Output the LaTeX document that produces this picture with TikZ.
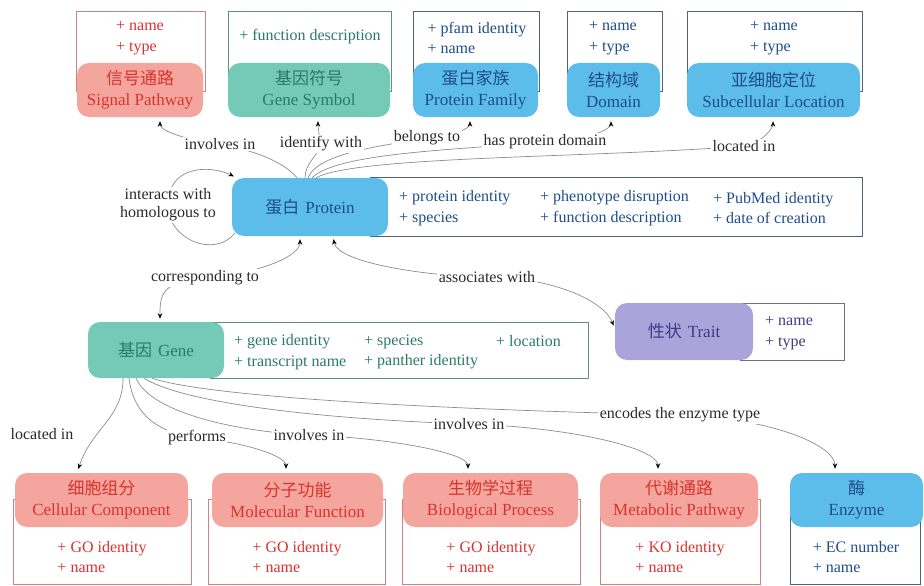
\documentclass[tikz,border=0pt]{standalone}
\usepackage{fontspec}
\setmainfont{Liberation Serif}
\newfontfamily\cjk{Noto Sans CJK SC}
\usetikzlibrary{arrows.meta,backgrounds}
\definecolor{rfill}{HTML}{F4A69E}
\definecolor{rtext}{HTML}{D8332E}
\definecolor{rline}{HTML}{C98482}
\definecolor{tfill}{HTML}{74C9B7}
\definecolor{ttext}{HTML}{2B7A68}
\definecolor{tline}{HTML}{5F8E84}
\definecolor{bfill}{HTML}{5CBDEB}
\definecolor{btext}{HTML}{1E4D8A}
\definecolor{bline}{HTML}{4C6278}
\definecolor{pfill}{HTML}{A9A5DB}
\definecolor{ptext}{HTML}{3D3A87}
\definecolor{pline}{HTML}{6F6E8E}
\definecolor{edgec}{HTML}{8C8C8C}
\definecolor{labc}{HTML}{2A2A2A}
\tikzset{
  fillbox/.style={rounded corners=12pt, inner sep=0pt, align=center, font=\fontsize{17}{21}\selectfont},
  outbox/.style={draw, line width=0.9pt, inner sep=0pt},
  attr/.style={align=left, inner sep=0pt, font=\fontsize{16}{20.5}\selectfont},
  rbox/.style={fillbox, fill=rfill, text=rtext},
  tbox/.style={fillbox, fill=tfill, text=ttext},
  bbox/.style={fillbox, fill=bfill, text=btext},
  pbox/.style={fillbox, fill=pfill, text=ptext},
  routline/.style={outbox, draw=rline},
  toutline/.style={outbox, draw=tline},
  boutline/.style={outbox, draw=bline},
  poutline/.style={outbox, draw=pline},
  rattr/.style={attr, text=rtext},
  tattr/.style={attr, text=ttext},
  battr/.style={attr, text=btext},
  pattr/.style={attr, text=ptext},
  lab/.style={fill=white, inner sep=1.5pt, text=labc, font=\fontsize{16}{18}\selectfont},
  edge/.style={draw=edgec, line width=0.7pt, -{Stealth[length=5.5pt,width=4.5pt,color=black]}, shorten >=4pt},
  bedge/.style={draw=edgec, line width=0.7pt, {Stealth[length=5.5pt,width=4.5pt,color=black]}-{Stealth[length=5.5pt,width=4.5pt,color=black]}, shorten >=3pt, shorten <=3pt}
}
\begin{document}
\begin{tikzpicture}[x=1pt,y=-1pt]
\useasboundingbox (0,0) rectangle (924,586);

% ---------- top row ----------
\node[routline, minimum width=129pt, minimum height=80pt, anchor=north] (spO) at (140.5,11) {};
\node[rbox, minimum width=126pt, minimum height=54pt] (sp) at (140,90) {{\cjk 信号通路}\\Signal Pathway};
\node[rattr] (spA) at (140,38) {+ name\\+ type};

\node[toutline, minimum width=163pt, minimum height=80pt, anchor=north] (gsO) at (309.5,11) {};
\node[tbox, minimum width=162pt, minimum height=54pt] (gs) at (309,90) {{\cjk 基因符号}\\Gene Symbol};
\node[tattr] (gsA) at (310,37) {+ function description};

\node[boutline, minimum width=126pt, minimum height=80pt, anchor=north] (pfO) at (476,11) {};
\node[bbox, minimum width=125pt, minimum height=54pt] (pf) at (475.5,90) {{\cjk 蛋白家族}\\Protein Family};
\node[battr] (pfA) at (477,38) {+ pfam identity\\+ name};

\node[boutline, minimum width=95pt, minimum height=80pt, anchor=north] (dmO) at (614.5,11) {};
\node[bbox, minimum width=93pt, minimum height=54pt] (dm) at (613.5,90) {{\cjk 结构域}\\Domain};
\node[battr] (dmA) at (613,38) {+ name\\+ type};

\node[boutline, minimum width=175pt, minimum height=80pt, anchor=north] (slO) at (774.5,11) {};
\node[bbox, minimum width=173pt, minimum height=54pt] (sl) at (773.5,90) {{\cjk 亚细胞定位}\\Subcellular Location};
\node[battr] (slA) at (774,38) {+ name\\+ type};

% ---------- protein ----------
\node[boutline, minimum width=492pt, minimum height=59pt] (pO) at (616,206.5) {};
\node[bbox, minimum width=156pt, minimum height=58pt] (P) at (310,207) {{\cjk 蛋白}\hspace{6pt}Protein};
\node[battr, anchor=west] (pA1) at (399,208) {+ protein identity\\+ species};
\node[battr, anchor=west] (pA2) at (540,208) {+ phenotype disruption\\+ function description};
\node[battr, anchor=west] (pA3) at (713,208) {+ PubMed identity\\+ date of creation};

% ---------- gene ----------
\node[toutline, minimum width=378pt, minimum height=56pt] (gO) at (399,350) {};
\node[tbox, minimum width=136pt, minimum height=56pt] (G) at (156,350) {{\cjk 基因}\hspace{6pt}Gene};
\node[tattr, anchor=west] (gA1) at (234,352) {+ gene identity\\+ transcript name};
\node[tattr, anchor=west] (gA2) at (364,352) {+ species\\+ panther identity};
\node[tattr, anchor=west] (gA3) at (496,341) {+ location};

% ---------- trait ----------
\node[poutline, minimum width=104pt, minimum height=57pt] (tO) at (792,331.5) {};
\node[pbox, minimum width=138pt, minimum height=57pt] (T) at (684,331.5) {{\cjk 性状}\hspace{6pt}Trait};
\node[pattr, anchor=west] (tA) at (765,333) {+ name\\+ type};

% ---------- bottom row ----------
\node[routline, minimum width=178pt, minimum height=85pt, anchor=south] (ccO) at (102,585) {};
\node[rbox, minimum width=173pt, minimum height=54pt] (CC) at (101.5,500) {{\cjk 细胞组分}\\Cellular Component};
\node[rattr] (ccA) at (102,557) {+ GO identity\\+ name};

\node[routline, minimum width=177pt, minimum height=85pt, anchor=south] (mfO) at (296.5,585) {};
\node[rbox, minimum width=171pt, minimum height=54pt] (MF) at (297.5,500) {{\cjk 分子功能}\\Molecular Function};
\node[rattr] (mfA) at (297,557) {+ GO identity\\+ name};

\node[routline, minimum width=178pt, minimum height=85pt, anchor=south] (bpO) at (491,585) {};
\node[rbox, minimum width=175pt, minimum height=54pt] (BP) at (490.5,500) {{\cjk 生物学过程}\\Biological Process};
\node[rattr] (bpA) at (491,557) {+ GO identity\\+ name};

\node[routline, minimum width=160pt, minimum height=85pt, anchor=south] (mpO) at (680,585) {};
\node[rbox, minimum width=158pt, minimum height=54pt] (MP) at (679,500) {{\cjk 代谢通路}\\Metabolic Pathway};
\node[rattr] (mpA) at (680,557) {+ KO identity\\+ name};

\node[boutline, minimum width=130pt, minimum height=85pt, anchor=south] (ezO) at (855,585) {};
\node[bbox, minimum width=133pt, minimum height=54pt] (EZ) at (856.5,500) {{\cjk 酶}\\Enzyme};
\node[battr] (ezA) at (856,557) {+ EC number\\+ name};

% ---------- labels ----------
\node[lab] (l1) at (220,144) {involves in};
\node[lab] (l2) at (321,144) {identify with};
\node[lab] (l3) at (427,138) {belongs to};
\node[lab] (l4) at (545,142) {has protein domain};
\node[lab] (l5) at (744,146) {located in};
\node[lab, align=center] (l6) at (168,205) {interacts with\\homologous to};
\node[lab] (l7) at (205,278) {corresponding to};
\node[lab] (l8) at (487,277) {associates with};
\node[lab] (l9) at (42,434) {located in};
\node[lab] (l10) at (197,438) {performs};
\node[lab] (l11) at (309,435) {involves in};
\node[lab] (l12) at (469,424) {involves in};
\node[lab] (l13) at (680,415) {encodes the enzyme type};

% ---------- connectors ----------
\begin{scope}[on background layer]
\draw[edge] ([xshift=-13pt]P.north) .. controls +(-15,-18) and +(30,6) .. (l1.center)
  .. controls +(-30,-3) and +(0,14) .. ([xshift=20pt]sp.south);
\draw[edge] ([xshift=-5pt]P.north) .. controls +(0,-15) and +(-3,12) .. (l2.center)
  .. controls +(-2,-8) and +(0,8) .. ([xshift=9pt]gs.south);
\draw[edge] ([xshift=-2pt]P.north) .. controls +(10,-25) and +(-45,8) .. (l3.center)
  .. controls +(30,-2) and +(0,10) .. ([xshift=-5.5pt]pf.south);
\draw[edge] ([xshift=2pt]P.north) .. controls +(25,-25) and +(-90,8) .. (l4.center)
  .. controls +(50,-2) and +(0,10) .. ([xshift=-2.5pt]dm.south);
\draw[edge] ([xshift=6pt]P.north) .. controls +(40,-22) and +(-150,12) .. (l5.center)
  .. controls +(20,-4) and +(0,10) .. ([xshift=-0.5pt]sl.south);
\draw[edge, shorten >=1pt] ([xshift=3pt,yshift=3pt]P.south west) .. controls +(-20,25) and +(0,35) .. (l6.center)
  .. controls +(0,-40) and +(-25,-12) .. ([xshift=3pt,yshift=1pt]P.north west);
\draw[bedge] ([xshift=-10pt]P.south) .. controls +(0,22) and +(45,-3) .. (l7.center)
  .. controls +(-45,3) and +(0,-25) .. ([xshift=4pt]G.north);
\draw[bedge] ([xshift=23pt]P.south) .. controls +(5,28) and +(-50,0) .. (l8.center)
  .. controls +(60,0) and +(-12,-30) .. ([yshift=3pt]T.west);
\draw[edge] ([xshift=-33pt]G.south) .. controls +(0,40) and +(15,-45) .. ([xshift=-24.5pt]CC.north);
\draw[edge] ([xshift=-27pt]G.south) .. controls +(5,40) and +(-35,-5) .. (l10.center)
  .. controls +(40,3) and +(0,-18) .. ([xshift=-11.5pt]MF.north);
\draw[edge] ([xshift=-20pt]G.south) .. controls +(15,35) and +(-70,-3) .. (l11.center)
  .. controls +(80,3) and +(0,-20) .. ([xshift=-22.5pt]BP.north);
\draw[edge] ([xshift=-12pt]G.south) .. controls +(40,25) and +(-150,-5) .. (l12.center)
  .. controls +(100,3) and +(0,-25) .. ([xshift=-21pt]MP.north);
\draw[edge] ([xshift=-4pt]G.south) .. controls +(60,20) and +(-220,-5) .. (l13.center)
  .. controls +(90,3) and +(0,-28) .. ([xshift=-21.5pt]EZ.north);
\end{scope}
\end{tikzpicture}
\end{document}
